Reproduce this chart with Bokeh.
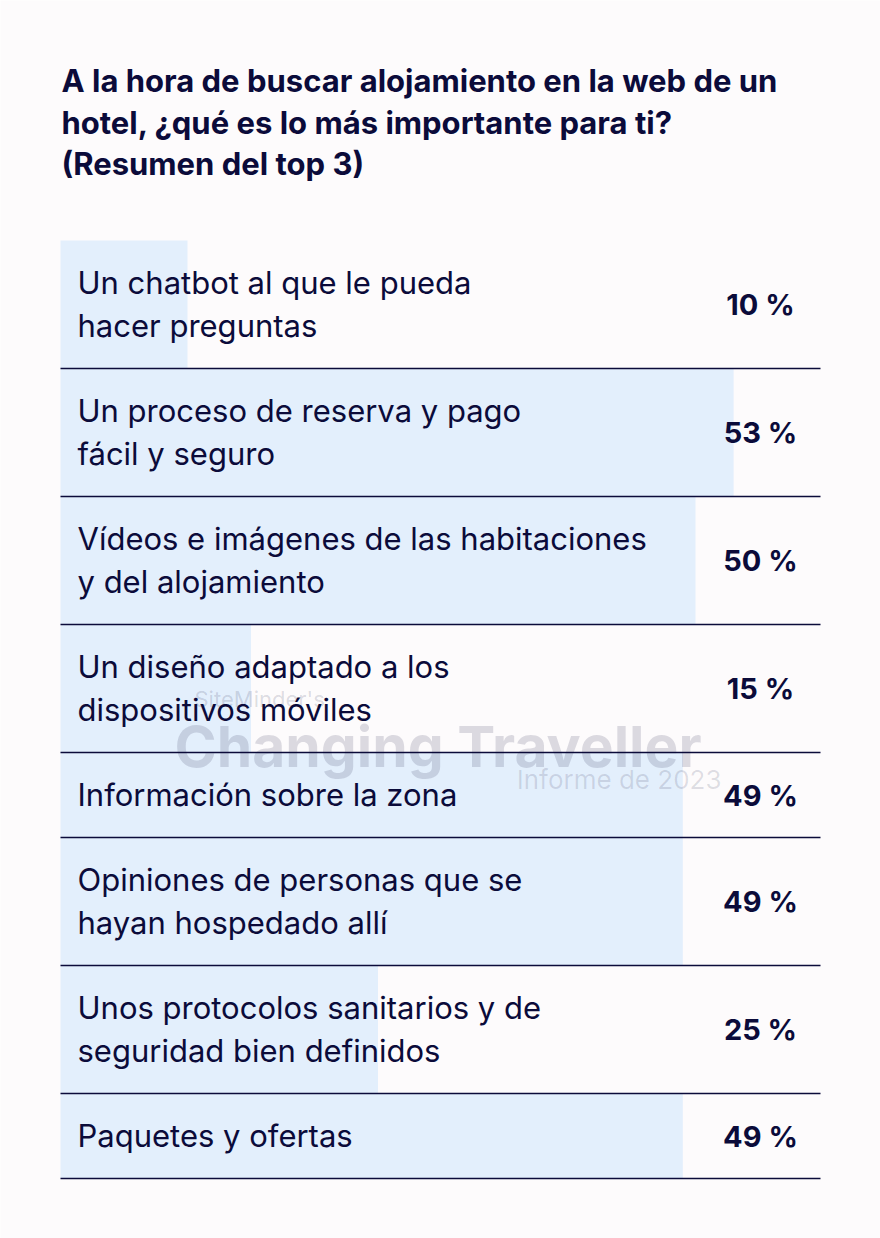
from bokeh.plotting import figure
from bokeh.models import Range1d, ColumnDataSource
from bokeh.core.properties import value
from bokeh.embed import file_html
from bokeh.resources import INLINE

title_lines = ["A la hora de buscar alojamiento en la web de un",
               "hotel, ¿qué es lo más importante para ti?",
               "(Resumen del top 3)"]
labels = ["Un chatbot al que le pueda\nhacer preguntas",
          "Un proceso de reserva y pago\nfácil y seguro",
          "Vídeos e imágenes de las habitaciones\ny del alojamiento",
          "Un diseño adaptado a los\ndispositivos móviles",
          "Información sobre la zona",
          "Opiniones de personas que se\nhayan hospedado allí",
          "Unos protocolos sanitarios y de\nseguridad bien definidos",
          "Paquetes y ofertas"]
values = [10, 53, 50, 15, 49, 49, 25, 49]

NAVY = "#0b0b3a"
BAR = "#e3effc"
BG = "#fdfbfc"
FONT = "Inter"

PX = 12.7          # pixels per percentage point
X0 = 60            # page x of 0 %
def xp(px):        # page pixel -> data units
    return (px - X0) / PX

p = figure(width=880, height=1238, output_backend="svg", toolbar_location=None,
           x_range=Range1d(xp(0), xp(880)), y_range=Range1d(1238, 0),
           x_axis_type=None, y_axis_type=None, min_border=0)
p.grid.visible = False
p.outline_line_color = None
p.background_fill_color = BG
p.border_fill_color = BG

# rows
top = 240
tops, bots, mids = [], [], []
for lab in labels:
    n = lab.count("\n") + 1
    h = 128 if n == 2 else 85
    tops.append(top); bots.append(top + h); mids.append(top + h / 2)
    top += h

src = ColumnDataSource(dict(left=[0] * len(values), right=values, top=tops, bottom=bots))
p.quad(left="left", right="right", top="top", bottom="bottom", source=src,
       fill_color=BAR, line_color=None)

# separators
p.segment(x0=[0] * len(bots), x1=[xp(820)] * len(bots), y0=bots, y1=bots,
          line_color=NAVY, line_width=1.5)

# watermark
p.text(x=[xp(194)], y=[698], text=["SiteMinder's"], text_font=value(FONT),
       text_font_size="22px", text_color=NAVY, text_alpha=0.15, text_baseline="middle")
p.text(x=[xp(174)], y=[746], text=["Changing Traveller"], text_font=value(FONT),
       text_font_size="57px", text_font_style="bold", text_color=NAVY, text_alpha=0.14,
       text_baseline="middle")
p.text(x=[xp(721)], y=[779], text=["Informe de 2023"], text_font=value(FONT),
       text_font_size="26px", text_color=NAVY, text_alpha=0.13, text_baseline="middle",
       text_align="right")

# labels
lx, ly, lt = [], [], []
for lab, m in zip(labels, mids):
    parts = lab.split("\n")
    n = len(parts)
    for i, t in enumerate(parts):
        lx.append(xp(77)); ly.append(m + (i - (n - 1) / 2) * 43 - 1); lt.append(t)
p.text(x=lx, y=ly, text=lt, text_font=value(FONT), text_font_size="31px",
       text_color=NAVY, text_baseline="middle")

# percent values
p.text(x=[xp(760)] * len(values), y=mids, text=[f"{v} %" for v in values],
       text_font=value(FONT), text_font_size="29px", text_font_style="bold",
       text_color=NAVY, text_baseline="middle", text_align="center")

# title
p.text(x=[xp(61)] * 3, y=[80, 122, 163], text=title_lines, text_font=value(FONT),
       text_font_size="31px", text_font_style="bold", text_color=NAVY,
       text_baseline="middle")

open("out.html", "w").write(file_html(p, INLINE))
